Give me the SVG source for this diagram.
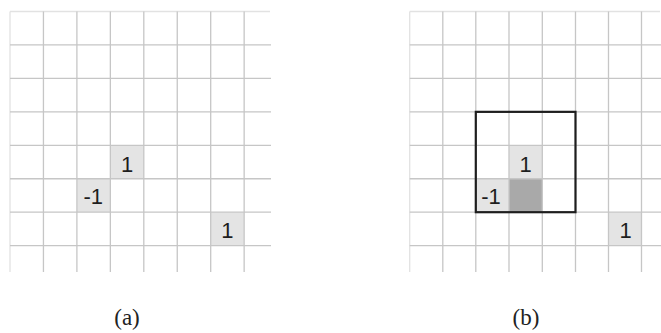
<svg xmlns="http://www.w3.org/2000/svg" width="661" height="333" viewBox="0 0 661 333">
  <style>
    .grid { stroke: #c6c6c6; stroke-width: 1.3; fill: none; }
    .edge { stroke: #e2e2e2; stroke-width: 1.3; fill: none; }
    .light { fill: #e4e4e4; }
    .dark { fill: #a9a9a9; }
    .num { font-family: "Liberation Sans", Arial, sans-serif; font-size: 22px; fill: #1e1e1e; text-anchor: middle; }
    .cap { font-family: "Liberation Serif", "Times New Roman", serif; font-size: 23px; fill: #222; text-anchor: middle; }
    .frame { fill: none; stroke: #1e1e1e; stroke-width: 2.2; }
  </style>
  <rect width="661" height="333" fill="#ffffff"/>

  <!-- Panel (a) -->
  <g id="panel-a">
    <g id="cells-a">
      <g id="a-cell-1"><rect class="light" x="110.4" y="145.3" width="33.4" height="33.4"/><text class="num" x="127.1" y="171.5">1</text></g>
      <g id="a-cell-neg1"><rect class="light" x="76.9" y="178.7" width="33.4" height="33.5"/><text class="num" x="93.2" y="204">-1</text></g>
      <g id="a-cell-1b"><rect class="light" x="210.7" y="212.2" width="33.4" height="33.4"/><text class="num" x="227.4" y="238">1</text></g>
    </g>
    <g id="grid-a">
      <path class="edge" d="M10 11.5 H270 M10 11.5 V272"/>
      <path class="grid" d="M43.45 11.5 V272 M76.9 11.5 V272 M110.35 11.5 V272 M143.8 11.5 V272 M177.25 11.5 V272 M210.7 11.5 V272 M244.15 11.5 V272
                            M10 44.95 H271 M10 78.4 H271 M10 111.85 H271 M10 145.3 H271 M10 178.75 H271 M10 212.2 H271 M10 245.65 H271"/>
    </g>
  </g>

  <!-- Panel (b) -->
  <g id="panel-b">
    <g id="cells-b">
      <g id="b-cell-1"><rect class="light" x="509" y="145.3" width="33.3" height="33.4"/><text class="num" x="525.5" y="171.5">1</text></g>
      <g id="b-cell-neg1"><rect class="light" x="475.8" y="178.7" width="33.2" height="33.5"/><text class="num" x="491" y="204">-1</text></g>
      <g id="b-cell-dark"><rect class="dark" x="509" y="178.7" width="33.3" height="33.5"/></g>
      <g id="b-cell-1b"><rect class="light" x="608.5" y="212.2" width="33" height="33.4"/><text class="num" x="625.5" y="238">1</text></g>
    </g>
    <g id="grid-b">
      <path class="edge" d="M409.7 11.5 H660 M409.7 11.5 V272"/>
      <path class="grid" d="M442.8 11.5 V272 M475.8 11.5 V272 M509 11.5 V272 M542.3 11.5 V272 M575.5 11.5 V272 M608.5 11.5 V272 M641.5 11.5 V272
                            M409.7 44.95 H661 M409.7 78.4 H661 M409.7 111.85 H661 M409.7 145.3 H661 M409.7 178.75 H661 M409.7 212.2 H661 M409.7 245.65 H661"/>
    </g>
    <g id="window">
      <rect class="frame" x="475.8" y="111.85" width="99.7" height="100.35"/>
    </g>
  </g>

  <g id="connectors"></g>

  <g id="captions">
    <text class="cap" x="127" y="325">(a)</text>
    <text class="cap" x="526" y="325">(b)</text>
  </g>
</svg>
